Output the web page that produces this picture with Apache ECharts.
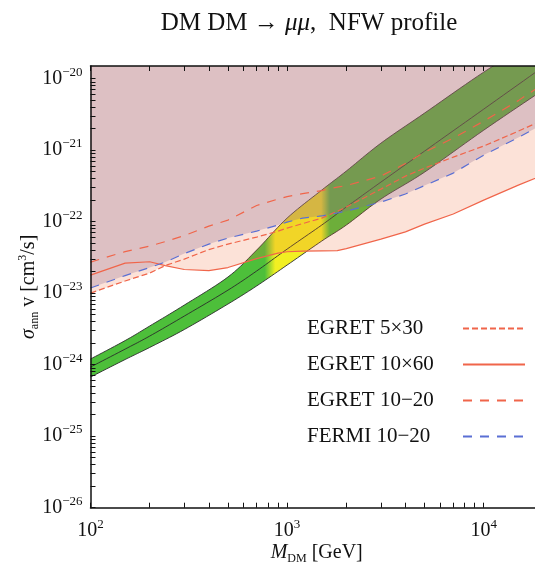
<!DOCTYPE html>
<html>
<head>
<meta charset="utf-8">
<script src="https://cdn.jsdelivr.net/npm/echarts@6/dist/echarts.min.js"></script>
<style>
  html, body { margin: 0; padding: 0; background: #ffffff; }
  #chart { width: 535px; height: 568px; }
</style>
</head>
<body>
<div id="chart"></div>
<script>
// Dark-matter mass grid (GeV) for the gamma-ray bounds
const massGeV = [100, 150, 200, 240, 300, 400, 500, 700, 900, 1000, 1200, 1500, 1800, 2000, 3000, 4000, 5000, 7000, 10000, 15000, 20000];

// Upper bounds on sigma_ann v (cm^3/s)
const egret5x30   = [1.00e-23, 1.48e-23, 1.91e-23, 2.43e-23, 2.99e-23, 4.07e-23, 4.85e-23, 6.08e-23, 7.37e-23, 8.12e-23, 9.39e-23, 1.12e-22, 1.40e-22, 1.60e-22, 2.85e-22, 4.33e-22, 5.60e-22, 7.98e-22, 1.14e-21, 1.84e-21, 2.63e-21];
const egret10x60  = [1.79e-23, 2.63e-23, 2.75e-23, 2.43e-23, 2.14e-23, 2.07e-23, 2.28e-23, 3.04e-23, 3.63e-23, 3.79e-23, 3.87e-23, 3.91e-23, 3.94e-23, 4.20e-23, 5.70e-23, 7.19e-23, 9.24e-23, 1.28e-22, 2.00e-22, 3.24e-22, 4.47e-22];
const egret10to20 = [2.72e-23, 3.81e-23, 4.55e-23, 5.26e-23, 6.38e-23, 8.66e-23, 1.05e-22, 1.68e-22, 2.07e-22, 2.24e-22, 2.47e-22, 2.72e-22, 3.04e-22, 3.19e-22, 4.33e-22, 6.48e-22, 9.38e-22, 1.47e-21, 2.54e-21, 4.92e-21, 8.37e-21];
const fermi10to20 = [1.18e-23, 1.76e-23, 2.28e-23, 2.72e-23, 3.57e-23, 4.85e-23, 5.89e-23, 7.37e-23, 8.95e-23, 9.85e-23, 1.12e-22, 1.20e-22, 1.32e-22, 1.40e-22, 1.88e-22, 2.43e-22, 3.19e-22, 4.77e-22, 8.51e-22, 1.50e-21, 2.31e-21];

// Region favoured by the positron excess: edges and central curve
const bandMass    = [100, 150, 200, 300, 500, 700, 1000, 1500, 2000, 3000, 5000, 10000, 20000];
const bandUpper   = [1.20e-24, 2.17e-24, 3.47e-24, 6.81e-24, 1.68e-23, 4.00e-23, 1.12e-22, 2.76e-22, 5.09e-22, 1.25e-21, 3.29e-21, 1.23e-20, 4.05e-20];
const bandCentral = [9.26e-25, 1.65e-24, 2.51e-24, 4.78e-24, 1.10e-23, 2.04e-23, 4.13e-23, 8.95e-23, 1.60e-22, 3.57e-22, 9.68e-22, 3.74e-21, 1.45e-20];
const bandLower   = [6.71e-25, 1.18e-24, 1.74e-24, 3.10e-24, 7.04e-24, 1.26e-23, 2.47e-23, 5.35e-23, 8.95e-23, 2.07e-22, 4.92e-22, 1.90e-21, 6.90e-21];
// Mass window (GeV) where the band turns yellow: fade-in start, full, full, fade-out end
const yellowWindow = [770, 870, 1490, 1650];

// Axes
const xRange = [100, 20000];
const yRange = [1e-26, 1.5e-20];
const xTickLabels = [100, 1000, 10000];
const yTickLabels = [1e-26, 1e-25, 1e-24, 1e-23, 1e-22, 1e-21, 1e-20];

const seriesNames = ['EGRET 5×30', 'EGRET 10×60', 'EGRET 10−20', 'FERMI 10−20'];

const SERIF = "'Liberation Serif', 'DejaVu Serif', serif";
const RED = '#f0654a';
const BLUE = '#5a6fd4';
const GREEN = '#4dbf3a';
const YELLOW = '#f2ef22';
const EDGE = '#2b2b2b';

function pairs(xs, ys) { return xs.map((x, i) => [x, ys[i]]); }

// 1-9 x 10^n tick positions inside a range
function logMinorTicks(lo, hi) {
  const out = [];
  for (let e = Math.floor(Math.log10(lo)); e <= Math.ceil(Math.log10(hi)); e++) {
    for (let m = 1; m < 10; m++) {
      const t = m * Math.pow(10, e);
      if (t >= lo * 0.9999 && t <= hi * 1.0001) out.push(t);
    }
  }
  return out;
}

// Lower envelope of two bounds, with their crossing point added
function lowerEnvelope(xs, a, b) {
  const out = [];
  const L = Math.log10;
  for (let i = 0; i < xs.length; i++) {
    out.push([xs[i], Math.min(a[i], b[i])]);
    if (i + 1 < xs.length) {
      const d0 = L(a[i]) - L(b[i]);
      const d1 = L(a[i + 1]) - L(b[i + 1]);
      if (d0 * d1 < 0) {
        const t = d0 / (d0 - d1);
        const lm = L(xs[i]) + t * (L(xs[i + 1]) - L(xs[i]));
        const ls = L(a[i]) + t * (L(a[i + 1]) - L(a[i]));
        out.push([Math.pow(10, lm), Math.pow(10, ls)]);
      }
    }
  }
  return out;
}

// Catmull-Rom smoothing of a pixel polyline (drawing only)
function smoothPixels(pts, steps) {
  const out = [pts[0]];
  for (let i = 0; i < pts.length - 1; i++) {
    const p0 = pts[Math.max(i - 1, 0)], p1 = pts[i], p2 = pts[i + 1], p3 = pts[Math.min(i + 2, pts.length - 1)];
    for (let s = 1; s <= steps; s++) {
      const t = s / steps, t2 = t * t, t3 = t2 * t;
      const f = (a, b, c, d) => 0.5 * ((2 * b) + (-a + c) * t + (2 * a - 5 * b + 4 * c - d) * t2 + (-a + 3 * b - 3 * c + d) * t3);
      out.push([f(p0[0], p1[0], p2[0], p3[0]), f(p0[1], p1[1], p2[1], p3[1])]);
    }
  }
  return out;
}

function powerLabel(v) {
  const e = Math.round(Math.log10(v));
  return '{b|10}{e|' + (e < 0 ? '\u2212' + (-e) : String(e)) + '}';
}

const powerRich = {
  b: { fontFamily: SERIF, fontSize: 20, lineHeight: 26, color: '#111' },
  e: { fontFamily: SERIF, fontSize: 13, lineHeight: 13, verticalAlign: 'top', color: '#111' }
};

// Favoured band: gradient fill plus black edges and central curve
function renderBand(params, api) {
  if (params.dataIndex !== 0) return null;
  const toPx = ys => smoothPixels(bandMass.map((m, i) => api.coord([m, ys[i]])), 10);
  const up = toPx(bandUpper), lo = toPx(bandLower), ce = toPx(bandCentral);
  const xa = api.coord([xRange[0], yRange[0]])[0];
  const xb = api.coord([xRange[1], yRange[0]])[0];
  const off = m => (api.coord([m, yRange[0]])[0] - xa) / (xb - xa);
  const fill = new echarts.graphic.LinearGradient(xa, 0, xb, 0, [
    { offset: 0, color: GREEN },
    { offset: off(yellowWindow[0]), color: GREEN },
    { offset: off(yellowWindow[1]), color: YELLOW },
    { offset: off(yellowWindow[2]), color: YELLOW },
    { offset: off(yellowWindow[3]), color: GREEN },
    { offset: 1, color: GREEN }
  ], true);
  const edge = pts => ({ type: 'polyline', shape: { points: pts }, style: { stroke: EDGE, lineWidth: 0.9, fill: null } });
  return {
    type: 'group',
    children: [
      { type: 'polygon', shape: { points: up.concat(lo.slice().reverse()) }, style: { fill: fill } },
      edge(up), edge(lo), edge(ce)
    ]
  };
}

// Excluded region: everything above a bound, up to the top of the plot
function aboveRenderer(points, color) {
  return function (params, api) {
    if (params.dataIndex !== 0) return null;
    const pts = points.map(p => api.coord(p));
    pts.push(api.coord([points[points.length - 1][0], yRange[1]]));
    pts.push(api.coord([points[0][0], yRange[1]]));
    return { type: 'polygon', shape: { points: pts }, style: { fill: color } };
  };
}

const chart = echarts.init(document.getElementById('chart'), null, { renderer: 'canvas' });

const axisLine = { show: true, lineStyle: { color: '#111', width: 1.5 } };
const tickStyle = { show: true, inside: true, length: 5, lineStyle: { color: '#111', width: 1 } };

const egretEnvelope = lowerEnvelope(massGeV, egret5x30, egret10x60);
const fermiPoints = pairs(massGeV, fermi10to20);

function boundSeries(i, values, color, dash) {
  return {
    name: seriesNames[i], type: 'line', z: 6, data: pairs(massGeV, values),
    symbol: 'none', silent: true,
    itemStyle: { color: color },
    lineStyle: { color: color, width: 1.2, type: dash }
  };
}

chart.setOption({
  backgroundColor: '#ffffff',
  animation: false,
  grid: { left: 90.5, top: 66, right: -7.9, bottom: 60.3, containLabel: false, outerBoundsMode: 'none' },
  graphic: [{
    type: 'text', x: 309, y: 23, z: 20,
    style: {
      text: '{n|DM DM \u2192 }{i|\u03bc\u03bc}{n|,  NFW profile}',
      align: 'center', verticalAlign: 'middle',
      rich: {
        n: { fontFamily: SERIF, fontSize: 25, fill: '#111' },
        i: { fontFamily: SERIF, fontSize: 25, fontStyle: 'italic', fill: '#111' }
      }
    }
  }],
  legend: {
    data: seriesNames,
    orient: 'vertical', align: 'right',
    left: 302, top: 313,
    itemWidth: 62, itemHeight: 14, itemGap: 15,
    selectedMode: false,
    itemStyle: { opacity: 0 },
    formatter: name => '{t|' + name + '}',
    textStyle: {
      rich: { t: { fontFamily: SERIF, fontSize: 21, lineHeight: 24, width: 151, align: 'left', color: '#111' } }
    }
  },
  xAxis: [{
    type: 'log', logBase: 10, min: xRange[0], max: xRange[1], z: 10,
    position: 'bottom',
    axisLine: axisLine,
    axisTick: Object.assign({ customValues: logMinorTicks(xRange[0], xRange[1]) }, tickStyle),
    axisLabel: { customValues: xTickLabels, margin: 10, formatter: powerLabel, rich: powerRich },
    splitLine: { show: false },
    name: '{i|M}{s|DM}{n| [GeV]}', nameLocation: 'middle', nameGap: 33, nameMoveOverlap: false,
    nameTextStyle: {
      rich: {
        i: { fontFamily: SERIF, fontSize: 20, fontStyle: 'italic', lineHeight: 24, color: '#111' },
        s: { fontFamily: SERIF, fontSize: 12, lineHeight: 12, verticalAlign: 'bottom', color: '#111' },
        n: { fontFamily: SERIF, fontSize: 20, lineHeight: 24, color: '#111' }
      }
    }
  }, {
    type: 'log', logBase: 10, min: xRange[0], max: xRange[1], z: 10,
    position: 'top',
    axisLine: axisLine,
    axisTick: Object.assign({ customValues: logMinorTicks(xRange[0], xRange[1]) }, tickStyle),
    axisLabel: { show: false },
    splitLine: { show: false }
  }],
  yAxis: [{
    type: 'log', logBase: 10, min: yRange[0], max: yRange[1], z: 10,
    axisLine: axisLine,
    axisTick: Object.assign({ customValues: logMinorTicks(yRange[0], yRange[1]) }, tickStyle),
    axisLabel: { customValues: yTickLabels, margin: 8, formatter: powerLabel, rich: powerRich },
    splitLine: { show: false },
    name: '{i|\u03c3}{s|ann}{n| v [cm}{p|3}{n|/s]}', nameLocation: 'middle', nameRotate: 90, nameGap: 50, nameMoveOverlap: false,
    nameTextStyle: {
      rich: {
        i: { fontFamily: SERIF, fontSize: 20, fontStyle: 'italic', lineHeight: 24, color: '#111' },
        s: { fontFamily: SERIF, fontSize: 12, lineHeight: 12, verticalAlign: 'bottom', color: '#111' },
        p: { fontFamily: SERIF, fontSize: 12, lineHeight: 12, verticalAlign: 'top', color: '#111' },
        n: { fontFamily: SERIF, fontSize: 20, lineHeight: 24, color: '#111' }
      }
    }
  }],
  series: [
    {
      name: 'favoured band', type: 'custom', z: 1, clip: true, silent: true,
      data: [[bandMass[0], bandCentral[0]]],
      renderItem: renderBand
    },
    {
      name: 'EGRET excluded', type: 'custom', z: 4, clip: true, silent: true,
      data: [egretEnvelope[0]],
      renderItem: aboveRenderer(egretEnvelope, 'rgba(240,110,60,0.2)')
    },
    {
      name: 'FERMI excluded', type: 'custom', z: 5, clip: true, silent: true,
      data: [fermiPoints[0]],
      renderItem: aboveRenderer(fermiPoints, 'rgba(140,105,140,0.28)')
    },
    boundSeries(0, egret5x30, RED, [6, 3]),
    boundSeries(1, egret10x60, RED, 'solid'),
    boundSeries(2, egret10to20, RED, [9, 8]),
    boundSeries(3, fermi10to20, BLUE, [9, 8])
  ]
});
</script>
</body>
</html>
